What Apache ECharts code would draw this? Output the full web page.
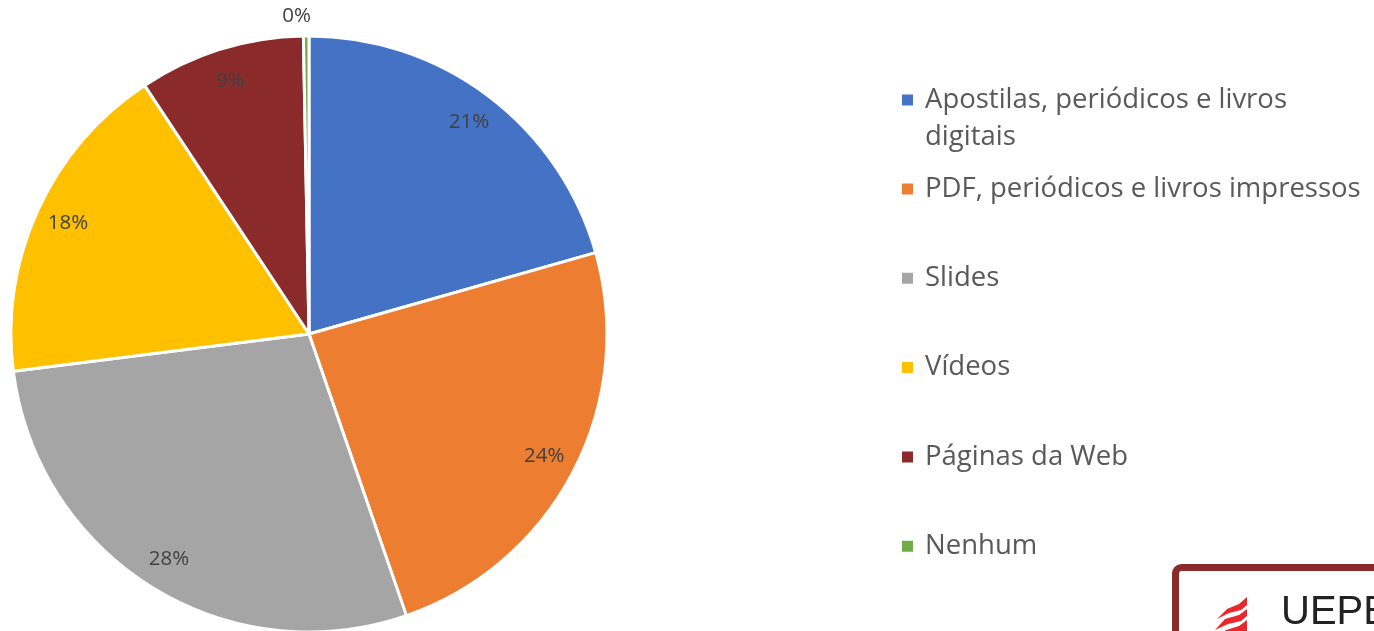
<!DOCTYPE html>
<html>
<head>
<meta charset="utf-8">
<script src="https://cdn.jsdelivr.net/npm/echarts@6/dist/echarts.min.js"></script>
<style>html,body{margin:0;padding:0;background:#fff;}#c{width:1374px;height:631px;}</style>
</head>
<body>
<div id="c"></div>
<script>
const categories = [
  'Apostilas, periódicos e livros digitais',
  'PDF, periódicos e livros impressos',
  'Slides',
  'Vídeos',
  'Páginas da Web',
  'Nenhum'
];
const values = [20.6, 24.1, 28.3, 17.7, 9.0, 0.3];
const labels = ['21%', '24%', '28%', '18%', '9%', '0%'];
const colors = ['#4472C4', '#ED7D31', '#A5A5A5', '#FFC000', '#8B2A2A', '#70AD47'];

const chart = echarts.init(document.getElementById('c'));
const FONT = 'Open Sans';
const R = 298;

const mainData = categories.map((n, i) => ({ name: n, value: values[i], itemStyle: { color: colors[i] } }));
const labelData = categories.map((n, i) => {
  const d = { name: n, value: values[i] };
  if (i === categories.length - 1) {
    d.label = { position: 'outside', distanceToLabelLine: -5 };
    d.labelLine = { show: false, length: 20, length2: 0 };
  }
  return d;
});

const legendText = { fontFamily: FONT, fontSize: 27.5, color: '#595959', lineHeight: 37, padding: [0, 0, 0, 6] };

chart.setOption({
  animation: false,
  backgroundColor: '#ffffff',
  legend: [
    {
      data: [categories[0]],
      left: 900, top: 100 - 55.5,
      padding: 0,
      orient: 'vertical',
      icon: 'rect', itemWidth: 13, itemHeight: 13,
      textStyle: legendText,
      formatter: () => '\nApostilas, periódicos e livros\ndigitais',
      selectedMode: false
    },
    {
      data: categories.slice(1),
      left: 900, top: 189 - 18.5,
      padding: 0,
      orient: 'vertical',
      icon: 'rect', itemWidth: 13, itemHeight: 13,
      itemGap: 52.3,
      textStyle: legendText,
      selectedMode: false
    }
  ],
  series: [
    {
      type: 'pie',
      center: [309, 334],
      radius: [0, R],
      startAngle: 90,
      clockwise: true,
      avoidLabelOverlap: false,
      label: { show: false },
      labelLine: { show: false },
      itemStyle: { borderColor: '#ffffff', borderWidth: 3 },
      emphasis: { disabled: true },
      data: mainData
    },
    {
      type: 'pie',
      center: [309, 334],
      radius: [R * 0.76, R],
      startAngle: 90,
      clockwise: true,
      silent: true,
      avoidLabelOverlap: false,
      itemStyle: { color: 'rgba(0,0,0,0)', borderWidth: 0 },
      label: {
        show: true, position: 'inside',
        formatter: p => labels[p.dataIndex],
        fontFamily: FONT, fontSize: 20.5, color: '#404040'
      },
      labelLine: { show: false },
      emphasis: { disabled: true },
      data: labelData
    }
  ],
  graphic: [
    {
      type: 'rect', z: 10,
      shape: { x: 1175.5, y: 567.5, width: 230, height: 100, r: 6 },
      style: { fill: '#ffffff', stroke: '#8B2A2A', lineWidth: 7 }
    },
    {
      type: 'polygon', z: 11,
      shape: { points: [[1247,597],[1239,604],[1227,609],[1217,619],[1229,613],[1241,610],[1247,605]] },
      style: { fill: '#E8282B' }
    },
    {
      type: 'polygon', z: 11,
      shape: { points: [[1247,609],[1239,615],[1225,619],[1215,630],[1228,624],[1241,621],[1247,616]] },
      style: { fill: '#E8282B' }
    },
    {
      type: 'polygon', z: 11,
      shape: { points: [[1247,620],[1239,626],[1226,630],[1218,636],[1247,636]] },
      style: { fill: '#E8282B' }
    },
    {
      type: 'text', z: 11,
      style: { x: 1281, y: 593, verticalAlign: 'top', text: 'UEPB', fontFamily: 'Liberation Sans', fontSize: 40, fill: '#222222' }
    }
  ]
});
</script>
</body>
</html>
